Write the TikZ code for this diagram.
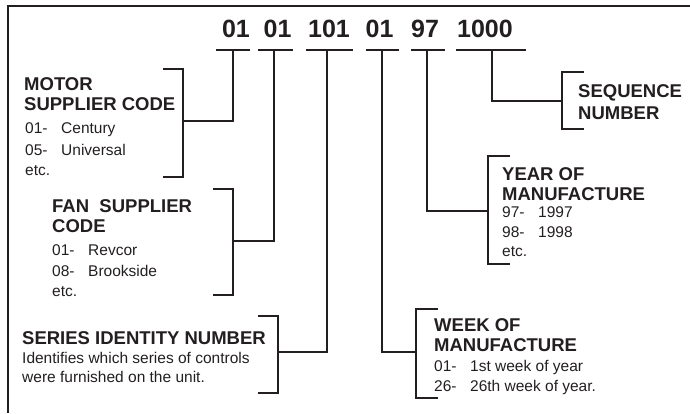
\documentclass[tikz,border=0pt]{standalone}
\usepackage{fontspec}
\setmainfont{Liberation Sans}
\usetikzlibrary{positioning}

\definecolor{ink}{RGB}{35,31,32}
\tikzset{
  rule/.style={line width=2pt, draw=ink},
  num/.style={anchor=base, inner sep=0pt, text=ink, font=\fontsize{25}{25}\selectfont\bfseries},
  head/.style={anchor=base west, inner sep=0pt, text=ink, font=\fontsize{18.5}{20}\selectfont\bfseries},
  body/.style={anchor=base west, inner sep=0pt, text=ink, font=\fontsize{15.5}{19}\selectfont},
}
\newcommand{\code}[2]{\makebox[36pt][l]{#1}#2}

\begin{document}
\begin{tikzpicture}[x=1pt, y=-1pt]
  \useasboundingbox (0,0) rectangle (690,413);
  \draw[line width=2.6pt, ink] (8,413) -- (8,6) -- (690,6);

  % the number
  \node[num] (g1) at (236,37) {01};
  \node[num] (g2) at (277.5,37) {01};
  \node[num] (g3) at (329,37) {101};
  \node[num] (g4) at (379.5,37) {01};
  \node[num] (g5) at (425,37) {97};
  \node[num] (g6) at (485,37) {1000};
  \draw[rule] (216,50) -- (250,50) (258,50) -- (293,50) (306,50) -- (353,50)
              (366,50) -- (399,50) (411,50) -- (445,50) (456,50) -- (526,50);

  % stems
  \coordinate (s1) at (233,50); \coordinate (s2) at (274,50);
  \coordinate (s3) at (327,50); \coordinate (s4) at (382,50);
  \coordinate (s5) at (427,50); \coordinate (s6) at (492,50);

  % brackets, left side
  \coordinate (b1) at (183,121); \coordinate (b2) at (233,241);
  \coordinate (b3) at (278,352);
  \draw[rule] (163,69) -- (183,69) -- (183,177) -- (163,177);
  \draw[rule] (213,189) -- (233,189) -- (233,295) -- (213,295);
  \draw[rule] (258,316) -- (278,316) -- (278,393) -- (258,393);
  \draw[rule] (s1) |- (b1);
  \draw[rule] (s2) |- (b2);
  \draw[rule] (s3) |- (b3);

  % brackets, right side
  \coordinate (b4) at (416,352); \coordinate (b5) at (488,211);
  \coordinate (b6) at (562,101);
  \draw[rule] (438,309) -- (416,309) -- (416,398) -- (438,398);
  \draw[rule] (510,156) -- (488,156) -- (488,264) -- (510,264);
  \draw[rule] (584,72) -- (562,72) -- (562,129) -- (584,129);
  \draw[rule] (s4) |- (b4);
  \draw[rule] (s5) |- (b5);
  \draw[rule] (s6) |- (b6);

  % motor
  \node[head] (mot1) at (24,90) {MOTOR};
  \node[head] (mot2) at (24,110) {SUPPLIER CODE};
  \node[body] (mot3) at (25,133) {\code{01-}{Century}};
  \node[body] (mot4) at (25,155) {\code{05-}{Universal}};
  \node[body] (mot5) at (25,175) {etc.};

  % fan
  \node[head] (fan1) at (52,212) {FAN\ \ SUPPLIER};
  \node[head] (fan2) at (52,232) {CODE};
  \node[body] (fan3) at (52,255) {\code{01-}{Revcor}};
  \node[body] (fan4) at (52,276) {\code{08-}{Brookside}};
  \node[body] (fan5) at (52,296) {etc.};

  % series
  \node[head] (ser1) at (22,344) {SERIES IDENTITY NUMBER};
  \node[body] (ser2) at (22,363) {Identifies which series of controls};
  \node[body] (ser3) at (22,382) {were furnished on the unit.};

  % week
  \node[head] (wk1) at (434,331) {WEEK OF};
  \node[head] (wk2) at (434,351) {MANUFACTURE};
  \node[body] (wk3) at (434,371) {\code{01-}{1st week of year}};
  \node[body] (wk4) at (434,391) {\code{26-}{26th week of year.}};

  % year
  \node[head] (yr1) at (502,180) {YEAR OF};
  \node[head] (yr2) at (502,200) {MANUFACTURE};
  \node[body] (yr3) at (502,217) {\code{97-}{1997}};
  \node[body] (yr4) at (502,237) {\code{98-}{1998}};
  \node[body] (yr5) at (502,256) {etc.};

  % sequence
  \node[head] (sq1) at (578,97) {SEQUENCE};
  \node[head] (sq2) at (578,119) {NUMBER};
\end{tikzpicture}
\end{document}
